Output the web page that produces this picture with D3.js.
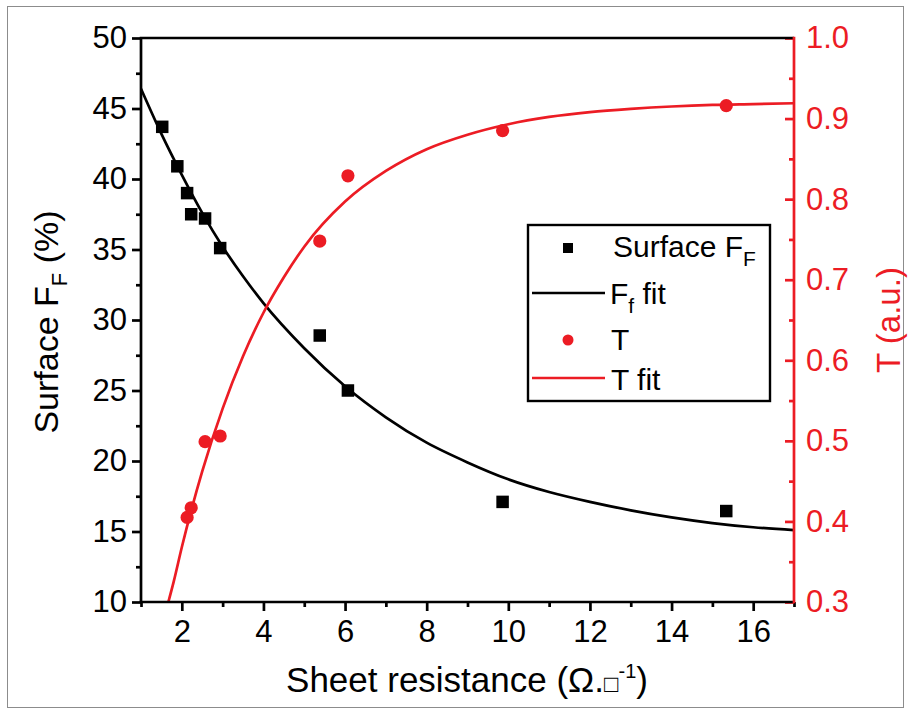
<!DOCTYPE html>
<html>
<head>
<meta charset="utf-8">
<script src="https://cdn.jsdelivr.net/npm/d3@7"></script>
<style>
  html, body { margin: 0; padding: 0; background: #fff; }
  svg { display: block; font-family: "Liberation Sans", Arial, sans-serif; }
</style>
</head>
<body>
<svg id="chart" width="911" height="715"></svg>
<script>
// Sheet resistance (Ohm/sq) of each sample
const sheetResistance = [1.52, 1.89, 2.13, 2.23, 2.57, 2.94, 5.38, 6.07, 9.86, 15.34];
// Surface fill factor (%)
const surfaceFF = [43.7, 40.9, 39.0, 37.5, 37.2, 35.1, 28.9, 25.0, 17.1, 16.45];
// Transmittance T (a.u.)
const transmittance = [0.405, 0.417, 0.499, 0.506, 0.748, 0.829, 0.885, 0.916];
const transmittanceR = [2.13, 2.23, 2.57, 2.94, 5.38, 6.07, 9.86, 15.34];

// Exponential fit of the fill factor, sampled along x
const ffFitX = [1, 1.5, 2, 2.5, 3, 3.5, 4, 5, 6, 7, 8, 9, 10, 11, 12, 13, 14, 15, 16, 17];
const ffFitY = [46.4, 43.2, 40.3, 37.6, 35.2, 33.1, 31.2, 28.0, 25.3, 23.1, 21.3, 19.9, 18.7, 17.8, 17.1, 16.5, 16.0, 15.6, 15.3, 15.1];

// Exponential fit of the transmittance, sampled along x
const tFitX = [1.67, 1.8, 2, 2.5, 3, 3.5, 4, 4.5, 5, 6, 7, 8, 9, 10, 11, 12, 13, 14, 15, 16, 17];
const tFitY = [0.300, 0.325, 0.368, 0.462, 0.540, 0.605, 0.659, 0.703, 0.741, 0.797, 0.835, 0.862, 0.880, 0.893, 0.902, 0.908, 0.912, 0.915, 0.917, 0.918, 0.919];

// Axis ticks
const xTicksMajor = [2, 4, 6, 8, 10, 12, 14, 16];
const xTicksMinor = [1, 3, 5, 7, 9, 11, 13, 15, 17];
const yLeftTicks = [10, 15, 20, 25, 30, 35, 40, 45, 50];
const yLeftMinor = [12.5, 17.5, 22.5, 27.5, 32.5, 37.5, 42.5, 47.5];
const yRightTicks = [0.3, 0.4, 0.5, 0.6, 0.7, 0.8, 0.9, 1.0];
const yRightMinor = [0.35, 0.45, 0.55, 0.65, 0.75, 0.85, 0.95];

const RED = "#ec1c24";
const FONT = "Liberation Sans, Arial, sans-serif";
const svg = d3.select("#chart");

const plot = { left: 141, right: 794, top: 38, bottom: 602 };

const x = d3.scaleLinear().domain([1, 17]).range([plot.left, plot.right]);
const yL = d3.scaleLinear().domain([10, 50]).range([plot.bottom, plot.top]);
const yR = d3.scaleLinear().domain([0.3, 1.0]).range([plot.bottom, plot.top]);

// outer frame of the figure
svg.append("rect")
  .attr("x", 7.5).attr("y", 6.5).attr("width", 896).attr("height", 701)
  .attr("fill", "none").attr("stroke", "#8c8c8c").attr("stroke-width", 1);

const clipId = "plot-clip";
svg.append("clipPath").attr("id", clipId)
  .append("rect")
  .attr("x", plot.left).attr("y", plot.top)
  .attr("width", plot.right - plot.left).attr("height", plot.bottom - plot.top);

const g = svg.append("g");

// fit curves
const ffLine = d3.line()
  .x((d, i) => x(ffFitX[i]))
  .y(d => yL(d))
  .curve(d3.curveMonotoneX);
const tLine = d3.line()
  .x((d, i) => x(tFitX[i]))
  .y(d => yR(d))
  .curve(d3.curveMonotoneX);

g.append("path")
  .attr("clip-path", `url(#${clipId})`)
  .attr("d", ffLine(ffFitY))
  .attr("fill", "none").attr("stroke", "#000").attr("stroke-width", 2.7);

g.append("path")
  .attr("clip-path", `url(#${clipId})`)
  .attr("d", tLine(tFitY))
  .attr("fill", "none").attr("stroke", RED).attr("stroke-width", 2.7);

// data markers
const sq = 12.5;
g.selectAll("rect.ff").data(surfaceFF).join("rect")
  .attr("class", "ff")
  .attr("x", (d, i) => x(sheetResistance[i]) - sq / 2)
  .attr("y", d => yL(d) - sq / 2)
  .attr("width", sq).attr("height", sq)
  .attr("fill", "#000");

g.selectAll("circle.t").data(transmittance).join("circle")
  .attr("class", "t")
  .attr("cx", (d, i) => x(transmittanceR[i]))
  .attr("cy", d => yR(d))
  .attr("r", 6.6)
  .attr("fill", RED);

// axes
const axisW = 2.7;
const tickFont = 31;

// bottom axis
const bottom = svg.append("g").attr("transform", `translate(0,${plot.bottom})`)
  .call(d3.axisBottom(x).tickValues(xTicksMajor).tickSize(9).tickSizeOuter(0).tickPadding(9));
bottom.select(".domain").remove();
bottom.selectAll(".tick line").attr("stroke-width", axisW);
bottom.selectAll(".tick text").attr("font-size", tickFont).attr("font-family", FONT).attr("fill", "#000");
const bottomMinor = svg.append("g").attr("transform", `translate(0,${plot.bottom})`)
  .call(d3.axisBottom(x).tickValues(xTicksMinor).tickSize(5).tickSizeOuter(0).tickFormat(""));
bottomMinor.select(".domain").remove();
bottomMinor.selectAll(".tick line").attr("stroke-width", axisW);

// left axis
const left = svg.append("g").attr("transform", `translate(${plot.left},0)`)
  .call(d3.axisLeft(yL).tickValues(yLeftTicks).tickSize(9).tickSizeOuter(0).tickPadding(5));
left.select(".domain").remove();
left.selectAll(".tick line").attr("stroke-width", axisW);
left.selectAll(".tick text").attr("font-size", tickFont).attr("font-family", FONT).attr("fill", "#000");
const leftMinor = svg.append("g").attr("transform", `translate(${plot.left},0)`)
  .call(d3.axisLeft(yL).tickValues(yLeftMinor).tickSize(5).tickSizeOuter(0).tickFormat(""));
leftMinor.select(".domain").remove();
leftMinor.selectAll(".tick line").attr("stroke-width", axisW);

// right axis (ticks point into the plot)
const right = svg.append("g").attr("transform", `translate(${plot.right},0)`)
  .call(d3.axisRight(yR).tickValues(yRightTicks).tickSize(-9).tickSizeOuter(0).tickPadding(12).tickFormat(d3.format(".1f")));
right.select(".domain").remove();
right.selectAll(".tick line").attr("stroke", RED).attr("stroke-width", axisW);
right.selectAll(".tick text").attr("font-size", tickFont).attr("font-family", FONT).attr("fill", RED);
const rightMinor = svg.append("g").attr("transform", `translate(${plot.right},0)`)
  .call(d3.axisRight(yR).tickValues(yRightMinor).tickSize(-5).tickSizeOuter(0).tickFormat(""));
rightMinor.select(".domain").remove();
rightMinor.selectAll(".tick line").attr("stroke", RED).attr("stroke-width", axisW);

// frame lines
svg.append("line").attr("x1", plot.left - 1.3).attr("x2", plot.right).attr("y1", plot.top).attr("y2", plot.top)
  .attr("stroke", "#000").attr("stroke-width", axisW);
svg.append("line").attr("x1", plot.left - 1.3).attr("x2", plot.right).attr("y1", plot.bottom).attr("y2", plot.bottom)
  .attr("stroke", "#000").attr("stroke-width", axisW);
svg.append("line").attr("x1", plot.left).attr("x2", plot.left).attr("y1", plot.top).attr("y2", plot.bottom)
  .attr("stroke", "#000").attr("stroke-width", axisW);
svg.append("line").attr("x1", plot.right).attr("x2", plot.right).attr("y1", plot.top - 1.3).attr("y2", plot.bottom + 1.3)
  .attr("stroke", RED).attr("stroke-width", axisW);

// axis titles
const xTitle = svg.append("text")
  .attr("x", 467).attr("y", 692)
  .attr("text-anchor", "middle").attr("font-size", 35).attr("fill", "#000");
xTitle.append("tspan").text("Sheet resistance (Ω.");
xTitle.append("tspan").attr("font-size", 24).text("□");
xTitle.append("tspan").attr("font-size", 20).attr("dy", -14).text("-1");
xTitle.append("tspan").attr("dy", 14).text(")");

const yTitle = svg.append("text")
  .attr("transform", `translate(58,${(plot.top + plot.bottom) / 2 + 2}) rotate(-90)`)
  .attr("text-anchor", "middle").attr("font-size", 34).attr("fill", "#000");
yTitle.append("tspan").text("Surface F");
yTitle.append("tspan").attr("font-size", 22).attr("dy", 9).text("F");
yTitle.append("tspan").attr("dy", -9).text(" (%)");

svg.append("text")
  .attr("transform", `translate(900,320) rotate(-90)`)
  .attr("text-anchor", "middle").attr("font-size", 33).attr("fill", RED)
  .text("T (a.u.)");

// legend
const legend = svg.append("g");
legend.append("rect")
  .attr("x", 528).attr("y", 225).attr("width", 242).attr("height", 176)
  .attr("fill", "#fff").attr("stroke", "#000").attr("stroke-width", 2.4);

const legFont = 30;
const symY = [248, 293, 340, 378];
const baseY = [257, 304, 350, 390];
const symX = 568, textX = 611;

legend.append("rect").attr("x", symX - 5).attr("y", symY[0] - 5).attr("width", 10).attr("height", 10).attr("fill", "#000");
const l1 = legend.append("text").attr("x", textX + 2).attr("y", baseY[0]).attr("font-size", legFont).attr("fill", "#000");
l1.append("tspan").text("Surface F");
l1.append("tspan").attr("font-size", 21).attr("dy", 9).text("F");

legend.append("line").attr("x1", 532).attr("x2", 605).attr("y1", symY[1]).attr("y2", symY[1])
  .attr("stroke", "#000").attr("stroke-width", 2.7);
const l2 = legend.append("text").attr("x", textX - 1).attr("y", baseY[1]).attr("font-size", legFont).attr("fill", "#000");
l2.append("tspan").text("F");
l2.append("tspan").attr("font-size", 21).attr("dy", 9).text("f");
l2.append("tspan").attr("dy", -9).text(" fit");

legend.append("circle").attr("cx", symX).attr("cy", symY[2]).attr("r", 5.5).attr("fill", RED);
legend.append("text").attr("x", textX).attr("y", baseY[2]).attr("font-size", legFont).attr("fill", "#000").text("T");

legend.append("line").attr("x1", 532).attr("x2", 605).attr("y1", symY[3]).attr("y2", symY[3])
  .attr("stroke", RED).attr("stroke-width", 2.7);
legend.append("text").attr("x", textX).attr("y", baseY[3]).attr("font-size", legFont).attr("fill", "#000").text("T fit");
</script>
</body>
</html>
